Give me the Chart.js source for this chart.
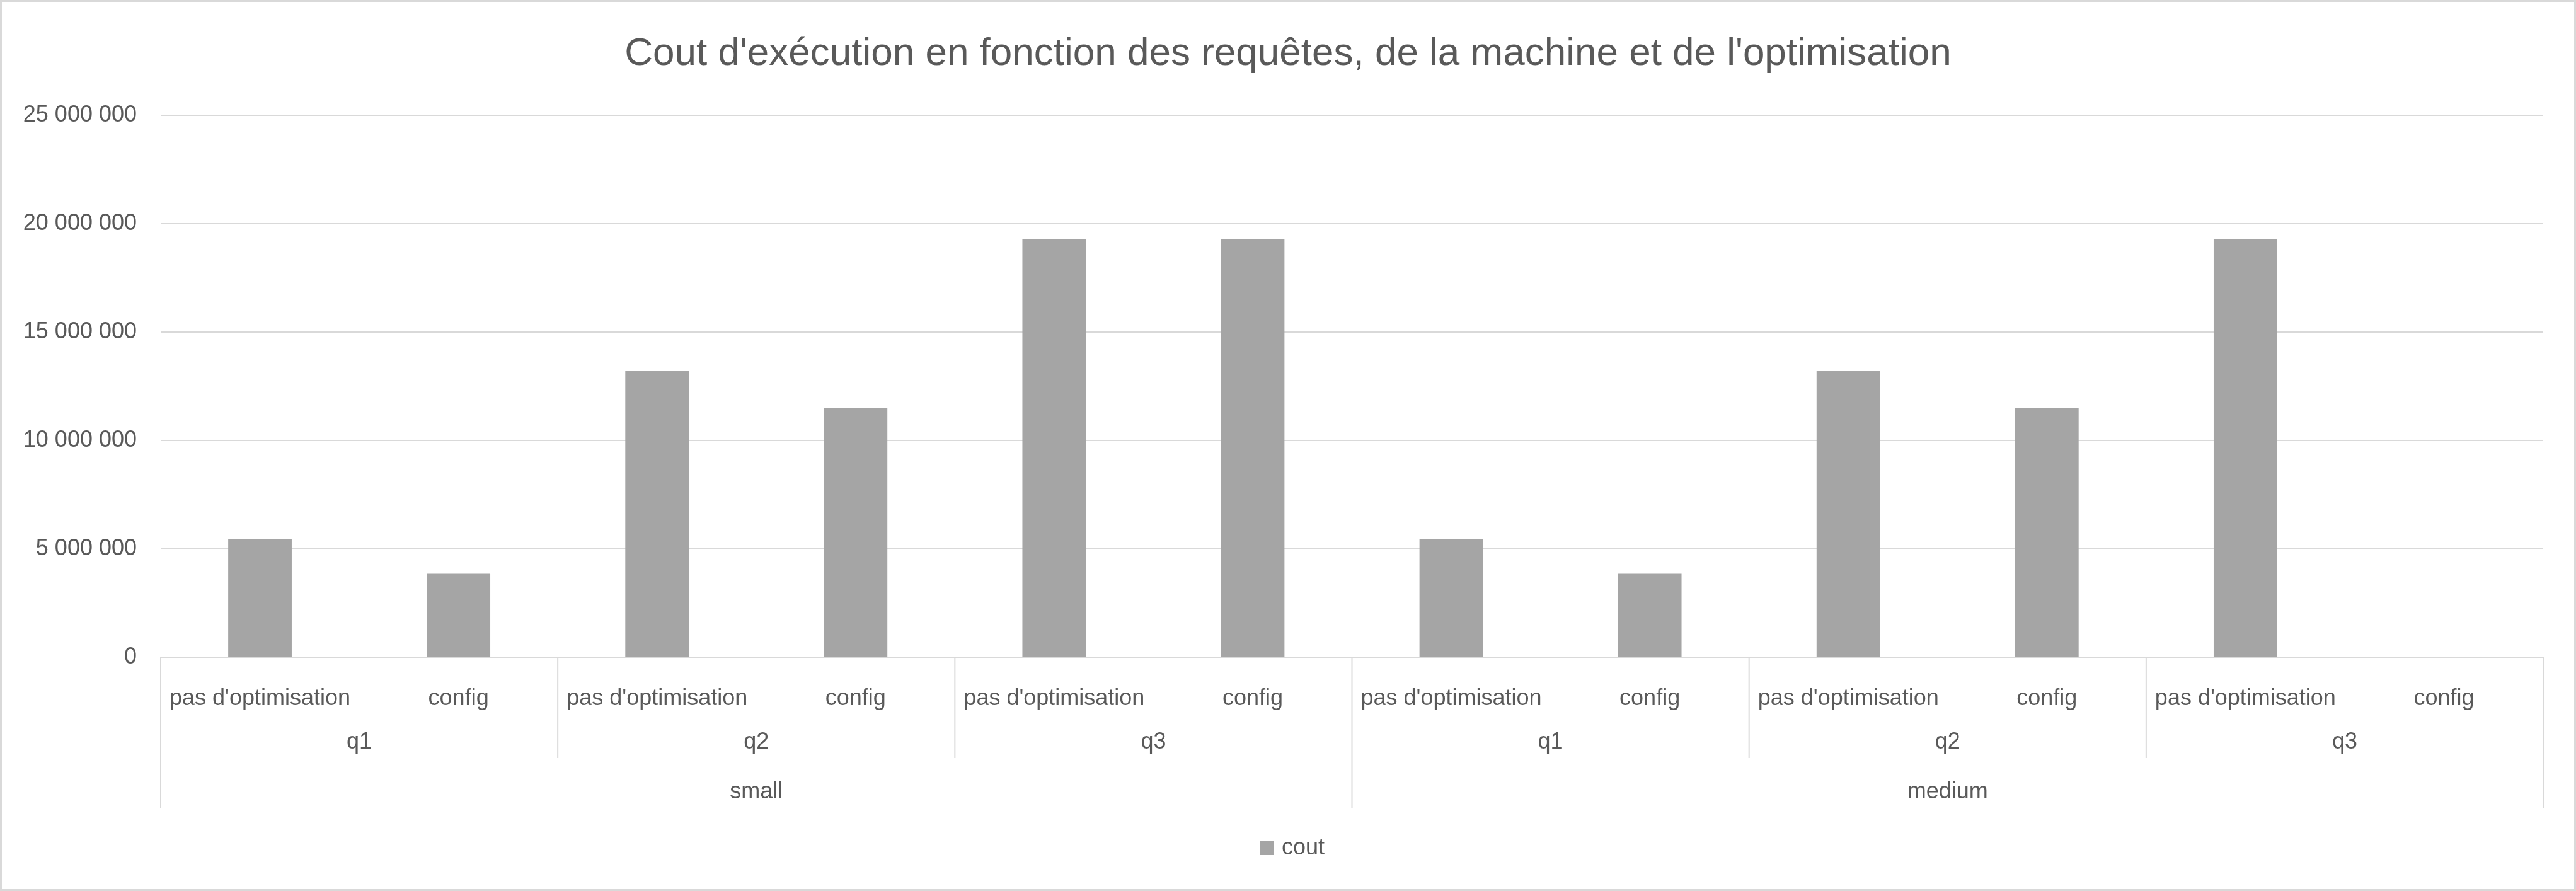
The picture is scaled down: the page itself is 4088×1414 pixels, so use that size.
<!DOCTYPE html>
<html>
<head>
<meta charset="utf-8">
<script src="https://cdn.jsdelivr.net/npm/chart.js@4.4.1/dist/chart.umd.min.js"></script>
<style>
  html, body { margin: 0; padding: 0; background: #fff; }
  #wrap { width: 4088px; height: 1414px; position: relative; }
</style>
</head>
<body>
<div id="wrap"><canvas id="chart"></canvas></div>
<script>
// Data
const optLabels = ["pas d'optimisation", 'config', "pas d'optimisation", 'config', "pas d'optimisation", 'config',
  "pas d'optimisation", 'config', "pas d'optimisation", 'config', "pas d'optimisation", 'config'];
const queryLabels = ['q1', 'q2', 'q3', 'q1', 'q2', 'q3'];
const machineLabels = ['small', 'medium'];
const coutValues = [5450000, 3850000, 13200000, 11500000, 19300000, 19300000,
  5450000, 3850000, 13200000, 11500000, 19300000, null];
const yTicks = [0, 5000000, 10000000, 15000000, 20000000, 25000000];

const textColor = '#595959';
const lineColor = '#d9d9d9';
const barColor = '#a5a5a5';
const fontFamily = "'Liberation Sans', 'Open Sans', sans-serif";

// Format number with spaces
function formatNumber(num) {
  return num.toString().replace(/\B(?=(\d{3})+(?!\d))/g, ' ');
}

// Extra label rows, separators, title, legend and border
const decorPlugin = {
  id: 'decor',
  afterDraw(chart) {
    const ctx = chart.ctx;
    const x = chart.scales.x;
    const area = chart.chartArea;
    const n = optLabels.length;
    const step = (area.right - area.left) / n;
    const edge = i => area.left + i * step;
    const row1 = area.bottom + 160;
    const row2 = area.bottom + 240;

    ctx.save();
    ctx.strokeStyle = lineColor;
    ctx.lineWidth = 2;
    // separators
    for (let i = 0; i <= n; i += 2) {
      const full = (i % 6 === 0);
      ctx.beginPath();
      ctx.moveTo(edge(i), area.bottom);
      ctx.lineTo(edge(i), full ? row2 : row1);
      ctx.stroke();
    }

    ctx.fillStyle = textColor;
    ctx.textAlign = 'center';
    ctx.textBaseline = 'middle';
    ctx.font = '36px ' + fontFamily;
    queryLabels.forEach((q, i) => {
      ctx.fillText(q, (edge(i * 2) + edge(i * 2 + 2)) / 2, area.bottom + 135);
    });
    machineLabels.forEach((m, i) => {
      ctx.fillText(m, (edge(i * 6) + edge(i * 6 + 6)) / 2, area.bottom + 214);
    });

    // title
    ctx.font = '62px ' + fontFamily;
    ctx.fillText("Cout d'exécution en fonction des requêtes, de la machine et de l'optimisation", chart.width / 2, 86);

    // legend
    ctx.font = '36px ' + fontFamily;
    ctx.textAlign = 'left';
    ctx.fillStyle = barColor;
    ctx.fillRect(2000, 1335, 22, 22);
    ctx.fillStyle = textColor;
    ctx.fillText('cout', 2034, 1346);

    // border
    ctx.strokeStyle = lineColor;
    ctx.lineWidth = 3;
    ctx.strokeRect(1.5, 1.5, chart.width - 3, chart.height - 3);
    ctx.restore();
  }
};

new Chart(document.getElementById('chart'), {
  type: 'bar',
  data: {
    labels: optLabels,
    datasets: [{
      label: 'cout',
      data: coutValues,
      backgroundColor: barColor,
      categoryPercentage: 1,
      barPercentage: 0.32
    }]
  },
  options: {
    responsive: true,
    maintainAspectRatio: false,
    devicePixelRatio: 1,
    animation: false,
    layout: { padding: { top: 183, bottom: 131, left: 20, right: 52 } },
    plugins: {
      legend: { display: false },
      tooltip: { enabled: false }
    },
    scales: {
      x: {
        grid: { display: false },
        border: { display: false },
        ticks: { color: textColor, font: { size: 36, family: fontFamily }, padding: 36, maxRotation: 0, autoSkip: false },
        afterFit(scale) { scale.height = 240; }
      },
      y: {
        min: 0,
        max: 25000000,
        afterBuildTicks(scale) { scale.ticks = yTicks.map(v => ({ value: v })); },
        grid: { color: lineColor, lineWidth: 2, drawTicks: false },
        border: { display: false },
        ticks: { color: textColor, font: { size: 36, family: fontFamily }, padding: 38, callback: v => formatNumber(v) },
        afterFit(scale) { scale.width = 235; }
      }
    }
  },
  plugins: [decorPlugin]
});
</script>
</body>
</html>
